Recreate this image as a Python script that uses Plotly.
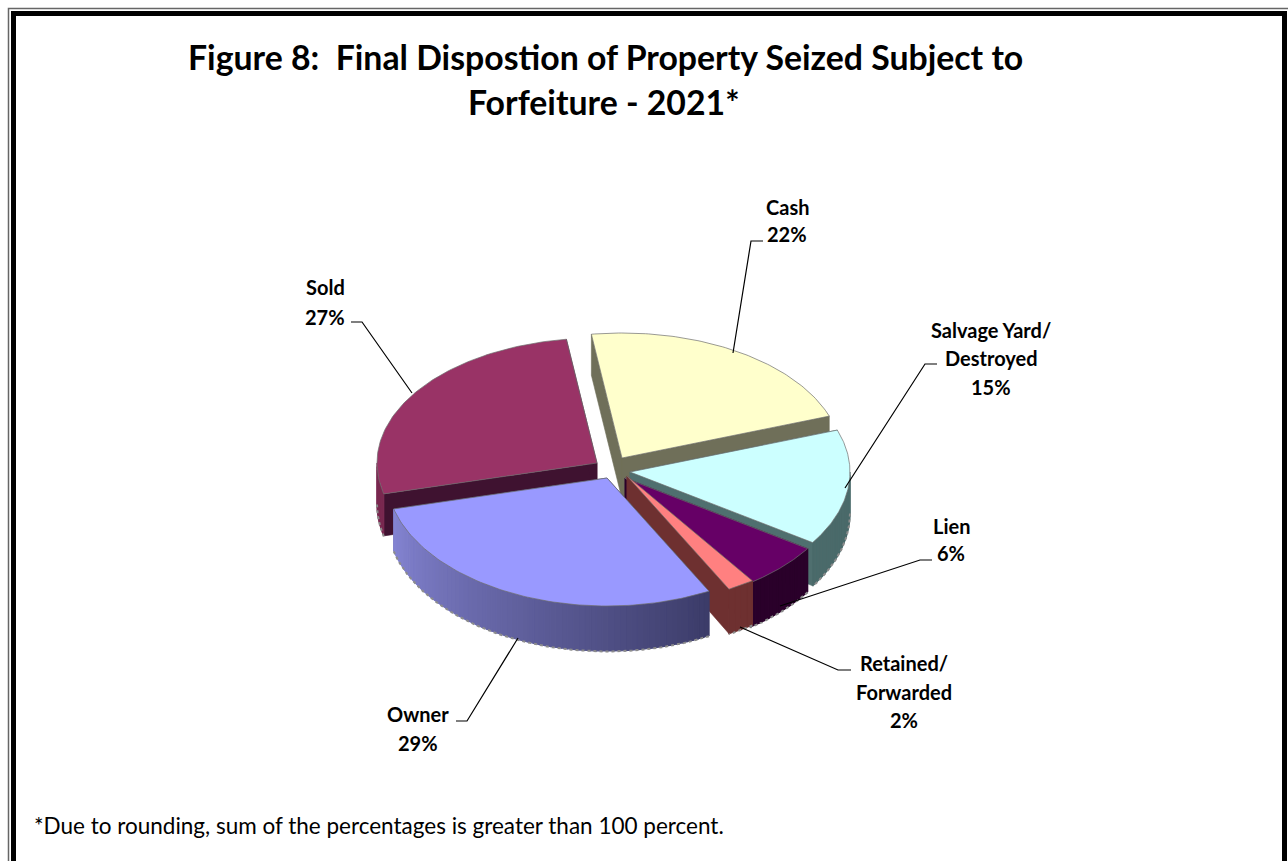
import numpy as np
import plotly.graph_objects as go

# ---- data ----
categories = ["Cash", "Salvage Yard/<br>Destroyed", "Lien", "Retained/<br>Forwarded", "Owner", "Sold"]
percents = [22, 15, 6, 2, 29, 27]
top_colors = ["#FFFFCC", "#CCFFFF", "#660066", "#FF8080", "#9999FF", "#993366"]
cut_colors = ["#6F6F59", "#4F6F6F", "#2A002A", "#6E3030", "#3C3C66", "#3F1230"]
wall_light = ["#6F6F59", "#5A7C7C", "#2A002A", "#6E3030", "#8484D2", "#7A2850"]
wall_dark = ["#6F6F59", "#4A6A6A", "#2A002A", "#6E3030", "#3A3A66", "#6A2245"]
centers_x = [622, 630, 625, 627, 607, 597]
centers_y = [458, 472, 478, 476, 478, 463]

label_x = [787, 991, 951, 904, 418, 325]
label_y = [[207, 234], [330, 358, 387], [526, 553], [663, 692, 720], [714, 743], [287, 317]]
leaders = [
    [(733, 353), (751, 241), (763, 241)],
    [(845, 488), (925, 364), (937, 364)],
    [(780, 606), (920, 560), (932, 560)],
    [(740, 627), (838, 670), (851, 670)],
    [(518, 638), (467, 721), (456, 721)],
    [(412, 393), (362, 322), (351, 322)],
]

title_lines = ["Figure 8:  Final Dispostion of Property Seized Subject to", "Forfeiture - 2021*"]
title_x = [605, 604]
title_y = [57, 102]
footnote = "*Due to rounding, sum of the percentages is greater than 100 percent."

START_DEG = -8.0
RX, RY, DEPTH = 220.0, 125.0, 41.0
FRONT_RY, FRONT_DEPTH = 3.0, 4.0   # slight perspective: the near rim is a little larger
FONT = "Lato"


def hex_rgb(h):
    return np.array([int(h[i:i + 2], 16) for i in (1, 3, 5)], dtype=float)


def mix(a, b, t):
    c = hex_rgb(a) * (1 - t) + hex_rgb(b) * t
    return "rgb(%d,%d,%d)" % tuple(c.round())


def near(deg):
    return np.clip(-np.cos(np.radians(deg)), 0, 1)


def rim(cx, cy, deg):
    r = np.radians(deg)
    return cx + RX * np.sin(r), cy - (RY + FRONT_RY * near(deg)) * np.cos(r)


def drop(deg):
    return DEPTH + FRONT_DEPTH * near(deg)


def poly(fig, xs, ys, color, line=None, lw=1.2):
    fig.add_trace(go.Scatter(x=xs, y=ys, mode="lines", fill="toself", fillcolor=color,
                             line=dict(color=line or color, width=lw),
                             hoverinfo="skip", showlegend=False))


fig = go.Figure()
fracs = np.array(percents, dtype=float) / sum(percents) * 360.0
edges = START_DEG + np.concatenate([[0], np.cumsum(fracs)])
# painter's order: back slices first
order = [0, 5, 1, 2, 3, 4]

for i in order:
    a0, a1 = edges[i], edges[i + 1]
    cx, cy = centers_x[i], centers_y[i]
    # cut faces
    for a in (a0, a1):
        ex, ey = rim(cx, cy, a)
        poly(fig, [cx, ex, ex, cx, cx], [cy, ey, ey + drop(a), cy + DEPTH, cy], cut_colors[i], lw=0.6)
    # outer wall, only on the near half of the rim (as vertical strips)
    sweep = []
    for shift in (0, 360):
        l2, h2 = max(a0, 90.0 + shift), min(a1, 270.0 + shift)
        if h2 > l2:
            sweep.append((l2, h2))
    for l2, h2 in sweep:
        n = max(2, int((h2 - l2) / 1.5))
        grid = np.linspace(l2, h2, n + 1)
        for k in range(n):
            t = (grid[k] + grid[k + 1]) / 2
            g = np.clip((255.0 - t) / (255.0 - 150.0), 0, 1)
            col = mix(wall_light[i], wall_dark[i], g)
            sub = np.linspace(grid[k], grid[k + 1], 3)
            xa, ya = rim(cx, cy, sub)
            yb = ya + drop(sub)
            poly(fig, list(xa) + list(xa[::-1]) + [xa[0]],
                 list(ya) + list(yb[::-1]) + [ya[0]], col)
        # rough grey bottom rim of the low resolution picture
        arc = np.linspace(l2, h2, 60)
        xa, ya = rim(cx, cy, arc)
        fig.add_trace(go.Scatter(x=xa, y=ya + drop(arc) + 0.5, mode="lines",
                                 line=dict(color="#8c8c8c", width=2, dash="dot"),
                                 hoverinfo="skip", showlegend=False))
    # top face
    arc = np.linspace(a0, a1, 90)
    xa, ya = rim(cx, cy, arc)
    poly(fig, [cx] + list(xa) + [cx], [cy] + list(ya) + [cy], top_colors[i], line="#6e6e6e", lw=0.7)

# leader lines
for pts in leaders:
    fig.add_trace(go.Scatter(x=[p[0] for p in pts], y=[p[1] for p in pts], mode="lines",
                             line=dict(color="black", width=1.2),
                             hoverinfo="skip", showlegend=False))

# slice labels, one annotation per text line
annotations = []
for name, pct, lx, ys in zip(categories, percents, label_x, label_y):
    lines = name.split("<br>") + [f"{pct}%"]
    for line, ly in zip(lines, ys):
        annotations.append(dict(x=lx, y=ly, xref="x", yref="y", showarrow=False,
                                text=f"<b>{line}</b>",
                                font=dict(family=FONT, size=20, color="black")))
for line, tx, ty in zip(title_lines, title_x, title_y):
    annotations.append(dict(x=tx, y=ty, xref="x", yref="y", showarrow=False,
                            text=f"<b>{line.replace('  ', '&nbsp; ')}</b>",
                            font=dict(family=FONT, size=33.8, color="black")))
annotations.append(dict(x=32, y=825, xref="x", yref="y", showarrow=False, xanchor="left",
                        text=footnote, font=dict(family=FONT, size=22.5, color="black")))

shapes = [
    dict(type="rect", xref="x", yref="y", x0=13.5, y0=13.5, x1=1284.5, y1=900,
         line=dict(color="black", width=5), layer="above"),
    dict(type="rect", xref="x", yref="y", x0=8.5, y0=8.5, x1=1290, y1=900,
         line=dict(color="#666666", width=1.5), layer="above"),
]

fig.update_layout(
    width=1288, height=861, margin=dict(l=0, r=0, t=0, b=0),
    paper_bgcolor="white", plot_bgcolor="white", showlegend=False,
    xaxis=dict(range=[0, 1288], visible=False, fixedrange=True),
    yaxis=dict(range=[861, 0], visible=False, fixedrange=True),
    annotations=annotations, shapes=shapes,
)
fig.write_html("out.html", config={"displayModeBar": False},
               post_script="document.body.style.margin='0';document.body.style.overflow='hidden';")
